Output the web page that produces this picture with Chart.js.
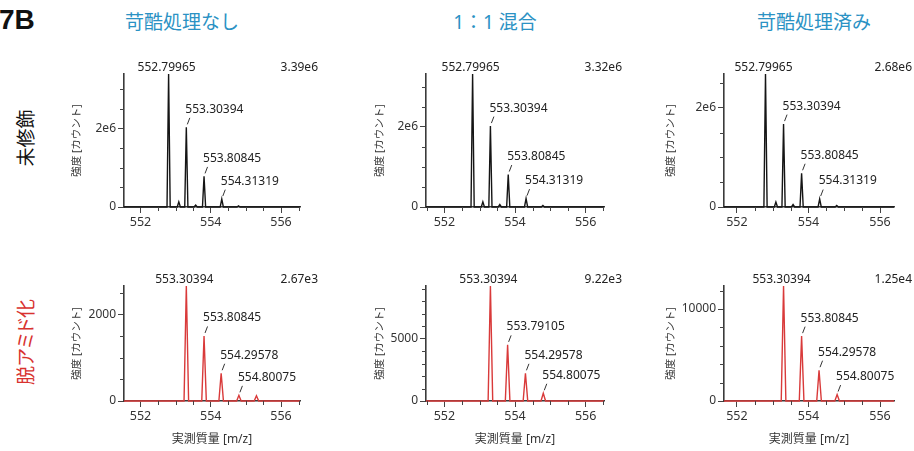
<!DOCTYPE html>
<html lang="ja">
<head>
<meta charset="utf-8">
<title>7B 質量スペクトル</title>
<script src="https://cdn.jsdelivr.net/npm/chart.js@4.4.1/dist/chart.umd.min.js"></script>
<style>
  html, body { margin: 0; padding: 0; background: #fff; }
  body { position: relative; width: 914px; height: 451px; overflow: hidden;
         font-family: "Noto Sans", "Noto Sans CJK JP", sans-serif; }
  canvas { position: absolute; }
  .fig { position: absolute; left: -1px; top: 6px; font: bold 28px "Liberation Sans", Arial, sans-serif;
         line-height: 28px; color: #111; }
  .lbl { position: absolute; white-space: nowrap; line-height: 1; transform: translate(-50%, -50%);
         font-family: "Noto Sans", "Noto Sans CJK JP", sans-serif; }
  .col { font-size: 19px; color: #2b92c4; }
  .row { font-size: 19px; font-family: "Noto Sans CJK JP", sans-serif; font-feature-settings: "palt";
         transform: translate(-50%, -50%) rotate(-90deg); }
</style>
</head>
<body>
<div class="fig">7B</div>
<div id="labels"></div>
<script>
// ---- text ----
const columnTitles = ['苛酷処理なし', '1：1 混合', '苛酷処理済み'];
const rowTitles = ['未修飾', '脱アミド化'];
const yAxisTitle = '強度 [カウント]';
const xAxisTitle = '実測質量 [m/z]';

// ---- m/z axis ticks ----
const xMajorTicks = [552, 554, 556];
const xTickText = ['552', '554', '556'];

// ---- top row: unmodified peptide, peak m/z and intensity [counts] ----
const unmodMz = [552.79965, 553.09, 553.30394, 553.57, 553.80845, 554.31319, 554.79];
const unmodPeakText = ['552.79965', '', '553.30394', '', '553.80845', '554.31319', ''];
const unmodNoStress = [3.39e6, 0.13e6, 2.03e6, 0.05e6, 0.78e6, 0.20e6, 0.03e6];
const unmodMixed = [3.32e6, 0.13e6, 2.02e6, 0.06e6, 0.81e6, 0.21e6, 0.04e6];
const unmodStressed = [2.68e6, 0.10e6, 1.67e6, 0.05e6, 0.68e6, 0.16e6, 0.03e6];
const unmodYTicks = [0, 2e6];
const unmodYTickText = ['0', '2e6'];

// ---- bottom row: deamidated peptide ----
const deamidNoStressMz = [553.30394, 553.80845, 554.29578, 554.80075, 555.30];
const deamidNoStressText = ['553.30394', '553.80845', '554.29578', '554.80075', ''];
const deamidNoStress = [2670, 1510, 644, 131, 120];

const deamidMixedMz = [553.30394, 553.79105, 554.29578, 554.80075];
const deamidMixedText = ['553.30394', '553.79105', '554.29578', '554.80075'];
const deamidMixed = [9220, 4500, 2220, 620];

const deamidStressedMz = [553.30394, 553.80845, 554.29578, 554.80075];
const deamidStressedText = ['553.30394', '553.80845', '554.29578', '554.80075'];
const deamidStressed = [12500, 7050, 3350, 700];

const deamidYTicks = [[0, 2000], [0, 5000], [0, 10000]];
const deamidYTickText = [['0', '2000'], ['0', '5000'], ['0', '10000']];

// full-scale intensity printed on each spectrum
const maxIntensityText = [['3.39e6', '3.32e6', '2.68e6'], ['2.67e3', '9.22e3', '1.25e4']];

// ---- layout ----
const FONT = '"Noto Sans", "Noto Sans CJK JP", sans-serif';
const Y_AXIS_W = 70, PAD_TOP = 26, PAD_RIGHT = 24;
const colGeom = [
  { left: 124, right: 300, xMin: 551.53, xMax: 556.54, titlePad: 17 },
  { left: 426, right: 604, xMin: 551.48, xMax: 556.52, titlePad: 18 },
  { left: 724, right: 894, xMin: 551.64, xMax: 556.39, titlePad: 10.5 }
];
const rowGeom = [
  { top: 74, bottom: 207, axisH: 24, line: '#151515', halfWidth: 0.045, showXTitle: false },
  { top: 286, bottom: 401, axisH: 50, line: '#d93a3a', halfWidth: 0.065, showXTitle: true }
];
const yMinorStep = [[0.5e6, 0.5e6, 0.5e6], [500, 1000, 2000]];

const panels = [
  { r: 0, c: 0, mz: unmodMz, val: unmodNoStress, text: unmodPeakText, yt: unmodYTicks, ytt: unmodYTickText },
  { r: 0, c: 1, mz: unmodMz, val: unmodMixed, text: unmodPeakText, yt: unmodYTicks, ytt: unmodYTickText },
  { r: 0, c: 2, mz: unmodMz, val: unmodStressed, text: unmodPeakText, yt: unmodYTicks, ytt: unmodYTickText },
  { r: 1, c: 0, mz: deamidNoStressMz, val: deamidNoStress, text: deamidNoStressText, yt: deamidYTicks[0], ytt: deamidYTickText[0] },
  { r: 1, c: 1, mz: deamidMixedMz, val: deamidMixed, text: deamidMixedText, yt: deamidYTicks[1], ytt: deamidYTickText[1] },
  { r: 1, c: 2, mz: deamidStressedMz, val: deamidStressed, text: deamidStressedText, yt: deamidYTicks[2], ytt: deamidYTickText[2] }
];

// profile trace: flat baseline with a narrow peak at every centroid
function profile(mz, val, xMin, xMax, hw) {
  const pts = [{ x: xMin, y: 0 }];
  mz.forEach((m, i) => {
    pts.push({ x: m - hw, y: 0 }, { x: m, y: val[i] }, { x: m + hw, y: 0 });
  });
  pts.push({ x: xMax, y: 0 });
  return pts;
}

// peak annotations, full-scale value and minor tick marks
const annotate = {
  id: 'annotate',
  afterDatasetsDraw(chart, args, o) {
    const { ctx, chartArea: a, scales: { x, y } } = chart;
    const p = o.panel;
    ctx.save();
    // minor ticks
    ctx.strokeStyle = '#444';
    ctx.lineWidth = 1;
    ctx.beginPath();
    for (let k = 1; k * o.minorY < y.max; k++) {
      const v = k * o.minorY;
      if (p.yt.includes(v)) continue;
      const py = Math.round(y.getPixelForValue(v)) + 0.5;
      ctx.moveTo(a.left - 4, py); ctx.lineTo(a.left, py);
    }
    for (let v = Math.ceil(x.min * 2) / 2; v < x.max; v += 0.5) {
      if (xMajorTicks.includes(v)) continue;
      const px = Math.round(x.getPixelForValue(v)) + 0.5;
      ctx.moveTo(px, a.bottom); ctx.lineTo(px, a.bottom + 4);
    }
    ctx.stroke();

    ctx.font = '12px ' + FONT;
    ctx.fillStyle = '#222';
    ctx.textBaseline = 'middle';
    const top = p.val.indexOf(Math.max(...p.val));
    p.mz.forEach((m, i) => {
      if (!p.text[i]) return;
      const px = x.getPixelForValue(m), py = y.getPixelForValue(p.val[i]);
      if (i === top) {
        ctx.textAlign = 'center';
        ctx.fillText(p.text[i], px - 2, a.top - 6);
      } else {
        ctx.textAlign = 'left';
        ctx.fillText(p.text[i], px - 1, py - 18);
        ctx.beginPath();
        ctx.strokeStyle = '#333';
        ctx.moveTo(px + 1, py - 3);
        ctx.lineTo(px + 3.5, py - 9.5);
        ctx.stroke();
      }
    });
    ctx.textAlign = 'right';
    ctx.fillText(o.maxText, a.right + 18, a.top - 6);
    ctx.restore();
  }
};

panels.forEach(p => {
  const cg = colGeom[p.c], rg = rowGeom[p.r];
  const w = Y_AXIS_W + (cg.right - cg.left) + PAD_RIGHT;
  const h = PAD_TOP + (rg.bottom - rg.top) + rg.axisH;
  const cv = document.createElement('canvas');
  cv.width = w; cv.height = h;
  cv.style.left = (cg.left - Y_AXIS_W) + 'px';
  cv.style.top = (rg.top - PAD_TOP) + 'px';
  cv.style.width = w + 'px'; cv.style.height = h + 'px';
  document.body.appendChild(cv);

  const yMax = Math.max(...p.val);
  new Chart(cv, {
    type: 'line',
    data: {
      datasets: [{
        data: profile(p.mz, p.val, cg.xMin, cg.xMax, rg.halfWidth),
        borderColor: rg.line,
        borderWidth: 1.4,
        pointRadius: 0,
        tension: 0,
        clip: false
      }]
    },
    options: {
      responsive: false,
      animation: false,
      devicePixelRatio: 1,
      layout: { padding: { left: 0, right: PAD_RIGHT, top: PAD_TOP, bottom: 0 } },
      plugins: {
        legend: { display: false },
        tooltip: { enabled: false },
        annotate: { panel: p, minorY: yMinorStep[p.r][p.c], maxText: maxIntensityText[p.r][p.c] }
      },
      scales: {
        x: {
          type: 'linear',
          min: cg.xMin, max: cg.xMax,
          afterBuildTicks: s => { s.ticks = xMajorTicks.map(v => ({ value: v })); },
          afterFit: s => { s.height = rg.axisH; },
          ticks: {
            autoSkip: false, maxRotation: 0, padding: 2, color: '#333',
            font: { family: FONT, size: 12.5 },
            callback: v => xTickText[xMajorTicks.indexOf(v)]
          },
          grid: { drawOnChartArea: false, drawTicks: true, tickLength: 6, tickColor: '#444', tickWidth: 1 },
          border: { display: true, color: '#3a3a3a', width: 1.6 },
          title: {
            display: rg.showXTitle, text: xAxisTitle, color: '#333',
            font: { family: FONT, size: 12 }, padding: { top: 4, bottom: 4 }
          }
        },
        y: {
          type: 'linear',
          min: 0, max: yMax,
          afterBuildTicks: s => { s.ticks = p.yt.map(v => ({ value: v })); },
          afterFit: s => { s.width = Y_AXIS_W; },
          ticks: {
            autoSkip: false, padding: 2, color: '#333',
            font: { family: FONT, size: 12 },
            callback: v => p.ytt[p.yt.indexOf(v)]
          },
          grid: { drawOnChartArea: false, drawTicks: true, tickLength: 6, tickColor: '#444', tickWidth: 1 },
          border: { display: true, color: '#3a3a3a', width: 1.6 },
          title: {
            display: true, text: yAxisTitle, color: '#333',
            font: { family: FONT, size: 10.5 }, padding: { top: cg.titlePad, bottom: 0 }
          }
        }
      }
    },
    plugins: [annotate]
  });
});

// column and row headings
const labels = document.getElementById('labels');
const colCenters = [182, 495, 814];
columnTitles.forEach((t, i) => {
  const d = document.createElement('div');
  d.className = 'lbl col';
  d.textContent = t;
  d.style.left = colCenters[i] + 'px';
  d.style.top = '22px';
  labels.appendChild(d);
});
const rowCenters = [138, 342];
const rowColors = ['#111', '#d8322f'];
rowTitles.forEach((t, i) => {
  const d = document.createElement('div');
  d.className = 'lbl row';
  d.textContent = t;
  d.style.left = '24px';
  d.style.top = rowCenters[i] + 'px';
  d.style.color = rowColors[i];
  labels.appendChild(d);
});
</script>
</body>
</html>
